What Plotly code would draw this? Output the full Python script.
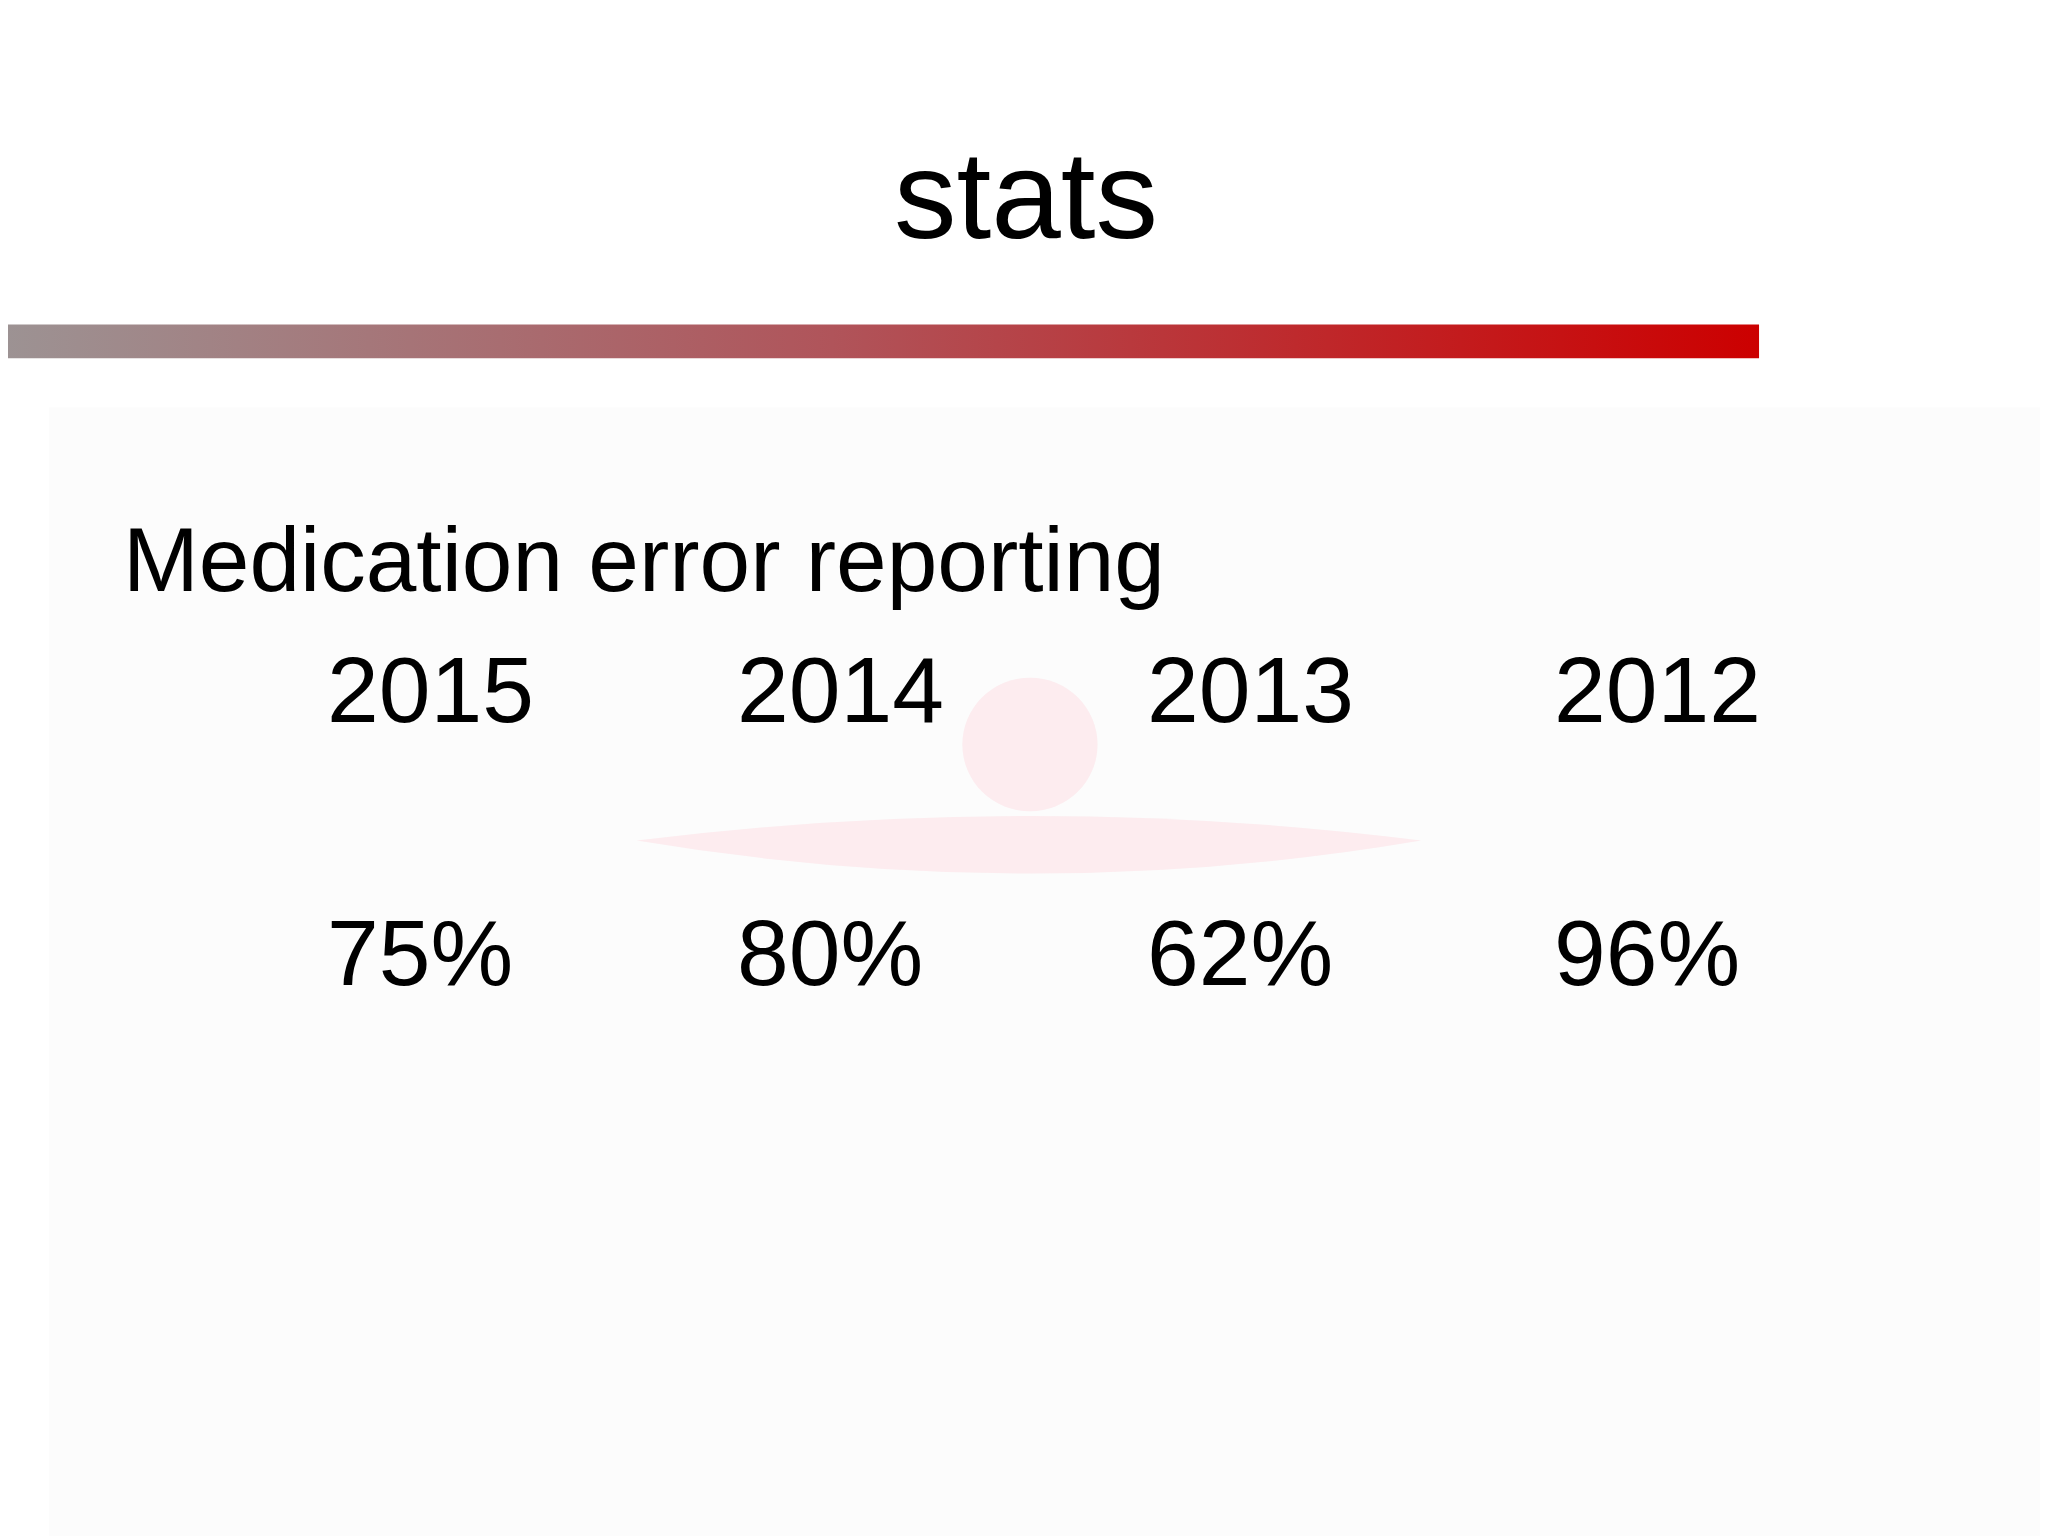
import plotly.graph_objects as go

title = "stats"
subtitle = "Medication error reporting"
years = ["2015", "2014", "2013", "2012"]
rates = ["75%", "80%", "62%", "96%"]

W, H = 2048, 1536
FONT = "Liberation Sans, Arial, sans-serif"

fig = go.Figure()

# gradient rule under the title (gray -> red)
fig.add_trace(go.Scatter(
    x=[-0.05, 0.855, 0.855, -0.05, -0.05], y=[0.767, 0.767, 0.789, 0.789, 0.767],
    mode="lines", line=dict(width=0), fill="toself",
    fillgradient=dict(type="horizontal",
                      colorscale=[[0, "#9a9a9a"], [0.5, "#b0545a"], [1, "#cc0000"]]),
    hoverinfo="skip", showlegend=False, cliponaxis=False,
))

fig.update_xaxes(range=[0, 1], visible=False, fixedrange=True)
fig.update_yaxes(range=[-0.005, 0.995], visible=False, fixedrange=True)

# faint watermark behind the numbers
fig.add_shape(type="rect", xref="paper", yref="paper", x0=0.02, x1=1, y0=0, y1=0.74,
              fillcolor="#fcfcfc", line_width=0, layer="below")
fig.add_shape(type="circle", xref="paper", yref="paper", x0=0.466, x1=0.532, y0=0.477, y1=0.564,
              fillcolor="rgba(255,200,210,0.3)", line_width=0, layer="below")
fig.add_shape(type="path", xref="paper", yref="paper",
              path="M 0.307 0.458 Q 0.5 0.415 0.69 0.458 Q 0.5 0.49 0.307 0.458 Z",
              fillcolor="rgba(255,200,210,0.3)", line_width=0, layer="below")

fig.add_annotation(text=title, x=0.497, y=0.925, xref="paper", yref="paper",
                   showarrow=False, font=dict(size=125, color="black", family=FONT))
fig.add_annotation(text=subtitle, x=0.055, y=0.641, xref="paper", yref="paper",
                   xanchor="left", showarrow=False,
                   font=dict(size=91, color="black", family=FONT))

xs = [0.155, 0.355, 0.555, 0.754]
for x, yr, r in zip(xs, years, rates):
    fig.add_annotation(text=yr, x=x, y=0.556, xref="paper", yref="paper", xanchor="left",
                       showarrow=False, font=dict(size=93, color="black", family=FONT))
    fig.add_annotation(text=r, x=x, y=0.385, xref="paper", yref="paper", xanchor="left",
                       showarrow=False, font=dict(size=93, color="black", family=FONT))

fig.update_layout(width=W, height=H, margin=dict(l=0, r=0, t=0, b=0),
                  paper_bgcolor="white", plot_bgcolor="rgba(0,0,0,0)", showlegend=False)

fig.write_html("out.html")
